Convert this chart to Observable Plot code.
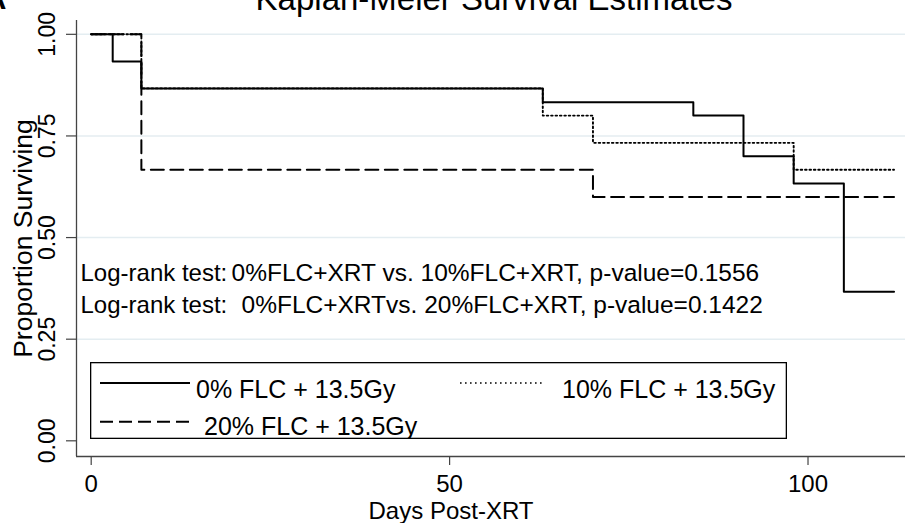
<!DOCTYPE html>
<html><head><meta charset="utf-8">
<script src="https://cdn.jsdelivr.net/npm/d3@7"></script>
<script src="https://cdn.jsdelivr.net/npm/@observablehq/plot@0.6"></script>
<style>
body{margin:0;background:#fff;}
#wrap{position:relative;width:905px;height:523px;overflow:hidden;font-family:"Liberation Sans",Arial,sans-serif;}
#legend{position:absolute;left:90px;top:362px;}
</style></head><body><div id="wrap"></div>
<script>
// Kaplan-Meier step data (days, proportion surviving)
const days0 = [0, 3, 7, 63, 84, 91, 98, 105, 112];
const surv0 = [1, 0.933, 0.867, 0.833, 0.80, 0.70, 0.633, 0.367, 0.367];
const days10 = [0, 7, 63, 70, 98, 112];
const surv10 = [1, 0.867, 0.80, 0.733, 0.667, 0.667];
const days20 = [0, 7, 70, 112];
const surv20 = [1, 0.667, 0.60, 0.60];
const groups = ["0% FLC + 13.5Gy", "10% FLC + 13.5Gy", "20% FLC + 13.5Gy"];
const yTicks = [0, 0.25, 0.5, 0.75, 1];
const yTickLabels = ["0.00", "0.25", "0.50", "0.75", "1.00"];
const gridTicks = [0.25, 0.5, 0.75, 1];
const xTicks = [0, 50, 100];
const xTickLabels = ["0", "50", "100"];
const title = "Kaplan-Meier Survival Estimates";
const xLabel = "Days Post-XRT";
const yLabel = "Proportion Surviving";
const note1 = ["Log-rank test:", "0%FLC+XRT vs. 10%FLC+XRT, p-value=0.1556"];
const note2 = ["Log-rank test:", "0%FLC+XRTvs. 20%FLC+XRT, p-value=0.1422"];
const panelLetter = "A";

const xDomain = [-2.05, 113.6];
const yDomain = [-0.0386, 1.034];

const rows = [];
[[days0, surv0], [days10, surv10], [days20, surv20]].forEach(([d, s], k) =>
  d.forEach((t, i) => rows.push({t, s: s[i], g: groups[k]})));

const axisColor = "#444";
const FONT = "'Liberation Sans', Arial, sans-serif";

const chart = Plot.plot({
  width: 905, height: 523,
  marginLeft: 76, marginRight: 0, marginTop: 20, marginBottom: 67,
  style: {fontFamily: FONT, background: "white", overflow: "visible", color: "black"},
  x: {domain: xDomain, axis: null},
  y: {domain: yDomain, axis: null},
  marks: [
    Plot.gridY(gridTicks, {stroke: "#e4edf1", strokeOpacity: 1, strokeWidth: 1.6}),
    Plot.ruleX([xDomain[0]], {stroke: axisColor, strokeWidth: 1.3}),
    Plot.ruleY([yDomain[0]], {stroke: axisColor, strokeWidth: 1.3}),
    Plot.axisY(yTicks, {tickSize: 10, tickFormat: () => "", label: null, stroke: axisColor, strokeWidth: 1.2}),
    Plot.axisX(xTicks, {tickSize: 9, tickFormat: () => "", label: null, stroke: axisColor, strokeWidth: 1.2}),
    Plot.line(rows.filter(r => r.g === groups[0]), {x: "t", y: "s", curve: "step-after", stroke: "black", strokeWidth: 2}),
    Plot.line(rows.filter(r => r.g === groups[1]), {x: "t", y: "s", curve: "step-after", stroke: "black", strokeWidth: 1.9, strokeDasharray: "1.6,2.8"}),
    Plot.line(rows.filter(r => r.g === groups[2]), {x: "t", y: "s", curve: "step-after", stroke: "black", strokeWidth: 2, strokeDasharray: "13,6.5"}),
    Plot.text(yTicks, {y: d => d, text: (d, i) => yTickLabels[i], frameAnchor: "left", textAnchor: "middle", lineAnchor: "middle", dx: -28.5, rotate: -90, fontSize: 23, fill: "black"}),
    Plot.text(xTicks, {x: d => d, text: (d, i) => xTickLabels[i], frameAnchor: "bottom", textAnchor: "middle", lineAnchor: "middle", dy: 28, fontSize: 24, fill: "black"}),
    Plot.text([xLabel], {frameAnchor: "bottom", textAnchor: "middle", dx: -40, dy: 62, lineAnchor: "bottom", fontSize: 24, fill: "black"}),
    Plot.text([yLabel], {frameAnchor: "left", textAnchor: "middle", lineAnchor: "middle", dx: -53, rotate: -90, fontSize: 26.5, fill: "black"}),
    Plot.text([title], {frameAnchor: "top", textAnchor: "middle", dx: 3, dy: -11, lineAnchor: "bottom", fontSize: 33, fill: "black"}),
    Plot.text([panelLetter], {frameAnchor: "top-left", dx: -70, dy: -12, textAnchor: "end", lineAnchor: "bottom", fontSize: 30, fontWeight: "bold", fill: "black"}),
    Plot.text([note1[0]], {frameAnchor: "top-left", dx: 4, dy: 260, textAnchor: "start", lineAnchor: "bottom", fontSize: 24, fill: "black"}),
    Plot.text([note1[1]], {frameAnchor: "top-left", dx: 155, dy: 260, textAnchor: "start", lineAnchor: "bottom", fontSize: 24.5, fill: "black"}),
    Plot.text([note2[0]], {frameAnchor: "top-left", dx: 4, dy: 292, textAnchor: "start", lineAnchor: "bottom", fontSize: 24, fill: "black"}),
    Plot.text([note2[1]], {frameAnchor: "top-left", dx: 165, dy: 292, textAnchor: "start", lineAnchor: "bottom", fontSize: 24.5, fill: "black"})
  ]
});

const wrap = document.getElementById("wrap");
wrap.appendChild(chart);

// Legend (inside the plot region, like Stata's ring(0) legend)
const legendItems = [
  {label: groups[0], dash: null, lx: 10, len: 90, tx: 106, y: 21, ty: 35.5, w: 2},
  {label: groups[1], dash: "1.6,3.4", lx: 370, len: 83, tx: 472, y: 21, ty: 35.5, w: 1.6},
  {label: groups[2], dash: "13,6", lx: 10, len: 90, tx: 114, y: 59.7, ty: 73.3, w: 2}
];
const lg = d3.select(wrap).append("svg").attr("id", "legend")
  .attr("width", 697).attr("height", 77);
lg.append("rect").attr("x", 0.65).attr("y", 0.65).attr("width", 695.7).attr("height", 75.7)
  .attr("fill", "white").attr("stroke", "black").attr("stroke-width", 1.3);
legendItems.forEach(it => {
  const ln = lg.append("line").attr("x1", it.lx).attr("x2", it.lx + it.len)
    .attr("y1", it.y).attr("y2", it.y).attr("stroke", "black").attr("stroke-width", it.w);
  if (it.dash) ln.attr("stroke-dasharray", it.dash);
  lg.append("text").attr("x", it.tx).attr("y", it.ty).attr("font-family", FONT)
    .attr("font-size", 25).attr("fill", "black").text(it.label);
});
</script>
</body></html>
